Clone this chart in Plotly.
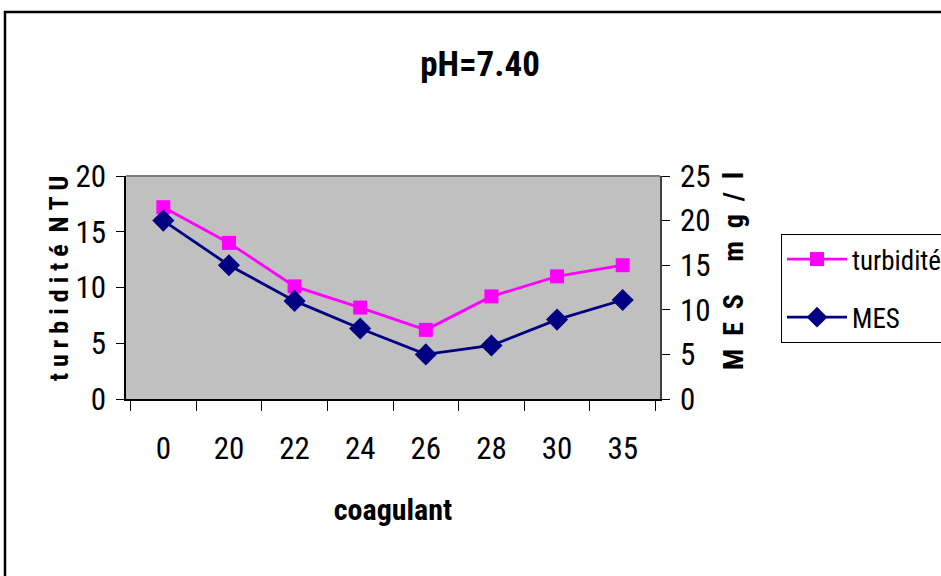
import plotly.graph_objects as go

categories = ["0", "20", "22", "24", "26", "28", "30", "35"]
turbidite = [17.2, 14.0, 10.1, 8.2, 6.2, 9.2, 11.0, 12.0]
mes = [20.0, 15.0, 11.0, 7.9, 5.0, 6.0, 8.9, 11.1]

FONT = "Roboto Condensed, Liberation Sans, Arial, sans-serif"
NB = "\u00a0"

W, H = 941, 576
L, R, T, B = 126, 281, 176, 177
pw, ph = W - L - R, H - T - B

def px(x):
    return (x - L) / pw

def py(y):
    return (H - B - y) / ph

def spaced(words, gap, inner=1):
    return (NB * gap).join((NB * inner).join(list(w)) for w in words)

fig = go.Figure()
fig.add_trace(go.Scatter(
    x=categories, y=turbidite, name="turbidité", mode="lines+markers",
    line=dict(color="#FF00FF", width=2.8),
    marker=dict(symbol="square", size=14, color="#FF00FF"),
    legendgroup="a", yaxis="y"))
fig.add_trace(go.Scatter(
    x=categories, y=mes, name="MES", mode="lines+markers",
    line=dict(color="#000080", width=2.8),
    marker=dict(symbol="diamond", size=17, color="#000080"),
    legendgroup="b", yaxis="y2"))

fig.update_layout(
    width=W, height=H,
    margin=dict(l=L, r=R, t=T, b=B, autoexpand=False),
    paper_bgcolor="white", plot_bgcolor="#C0C0C0",
    font=dict(family=FONT, size=31, color="black"),
    title=dict(text="<b>pH=7.40</b>", x=480 / W, xanchor="center", y=1 - 64 / H, yanchor="middle",
               font=dict(size=35, family=FONT)),
    xaxis=dict(type="category", showgrid=False, showline=True, linecolor="black", linewidth=1.5,
               ticks="outside", tickson="boundaries", ticklen=10, tickcolor="black",
               ticklabelstandoff=21, tickfont=dict(size=31),
               title=dict(text="<b>coagulant</b>", font=dict(size=30), standoff=33),
               zeroline=False),
    yaxis=dict(range=[0, 20], dtick=5, showgrid=False, showline=True, linecolor="black", linewidth=1.5,
               ticks="outside", ticklen=8, tickcolor="black", ticklabelstandoff=4,
               tickfont=dict(size=31), zeroline=False),
    yaxis2=dict(range=[0, 25], dtick=5, overlaying="y", side="right", showgrid=False,
                showline=True, linecolor="#404040", linewidth=1.5,
                ticks="outside", ticklen=8, tickcolor="black", ticklabelstandoff=4,
                tickfont=dict(size=31), zeroline=False),
    legend=dict(x=px(781), y=py(234), xanchor="left", yanchor="top",
                bordercolor="black", borderwidth=1, bgcolor="white", itemwidth=60,
                font=dict(size=27, family=FONT), tracegroupgap=20, traceorder="grouped"),
    showlegend=True,
)

fig.add_annotation(text="<b>" + spaced(["turbidité", "NTU"], 2) + "</b>", textangle=-90,
                   xref="paper", yref="paper", x=px(59), y=py(279), xanchor="center", yanchor="middle",
                   showarrow=False, font=dict(size=26, family=FONT))
fig.add_annotation(text="<b>" + spaced(["MES", "mg/l"], 5, 2) + "</b>", textangle=-90,
                   xref="paper", yref="paper", x=px(733), y=py(271), xanchor="center", yanchor="middle",
                   showarrow=False, font=dict(size=28, family=FONT))

fig.add_shape(type="line", xref="paper", yref="paper", x0=0, x1=1, y0=1, y1=1,
              line=dict(color="#808080", width=2), layer="above")
fig.add_shape(type="rect", xref="paper", yref="paper", x0=px(5), x1=px(960), y0=py(12), y1=py(600),
              line=dict(color="black", width=2.5), fillcolor="rgba(0,0,0,0)", layer="below")

fig.write_html("out.html")
